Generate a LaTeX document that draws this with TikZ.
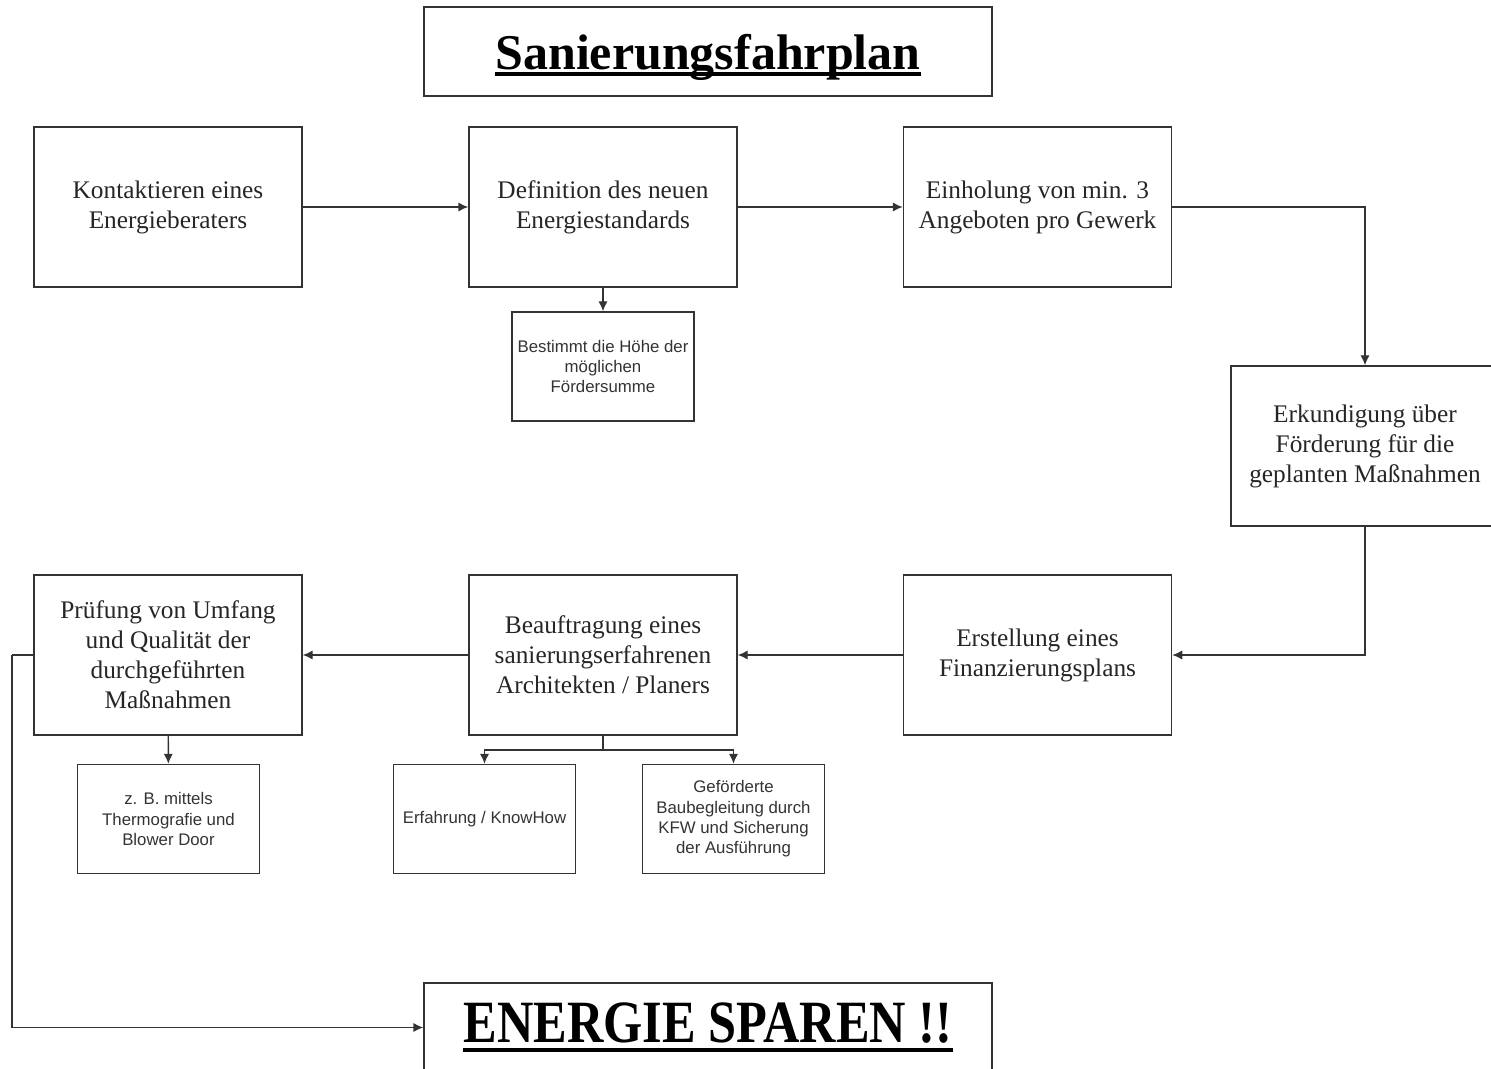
\documentclass[tikz,border=0pt]{standalone}
\usepackage{fontspec}
\setmainfont{Liberation Serif}
\setsansfont{Liberation Sans}
\usepackage{tikz}
\usetikzlibrary{arrows.meta}

% thick underline: #1 gap below baseline, #2 thickness, #3 text
\newcommand{\thickul}[3]{\setbox0\hbox{#3}\leavevmode\rlap{\rule[-\dimexpr#1+#2\relax]{\wd0}{#2}}\box0}

\begin{document}
\begin{tikzpicture}[x=0.75pt, y=-0.75pt,
		node_style/.style={rectangle,draw=black!80,line width=1.1pt,minimum width=201pt,minimum height=120pt,align=center,font=\fontsize{19}{22.5}\selectfont,text=black!85},
		small_style/.style={rectangle,draw=black!80,line width=1.1pt,minimum width=136.5pt,minimum height=81.75pt,align=center,font=\sffamily\fontsize{12.6}{15.3}\selectfont,text=black!80},
		title_style/.style={rectangle,draw=black!80,line width=1.1pt,minimum width=426pt,minimum height=66.75pt,align=center},
		edge_style/.style={draw=black!80,line width=1.1pt},
		arrow_style/.style={edge_style,-{Latex[length=7.5pt,width=7pt]}}]

		\useasboundingbox (0,0) rectangle (1491,1069);

		\node[title_style,text depth=0pt] (t0) at (708,51.5) {\bfseries\fontsize{37.5}{40}\selectfont
			\thickul{2.5pt}{2.4pt}{Sanierungsfahrplan}};

		\node[node_style] (n0) at (168,207)    {Kontaktieren eines\\Energieberaters};
		\node[node_style] (n1) at (603,207)    {Definition des neuen\\Energiestandards};
		\node[node_style] (n2) at (1037.5,207) {Einholung von min. 3\\Angeboten pro Gewerk};
		\node[node_style] (n3) at (1365,446)   {Erkundigung über\\Förderung für die\\geplanten Maßnahmen};
		\node[node_style] (n4) at (1037.5,655) {Erstellung eines\\Finanzierungsplans};
		\node[node_style] (n5) at (603,655)    {Beauftragung eines\\sanierungserfahrenen\\Architekten / Planers};
		\node[node_style] (n6) at (168,655)    {Prüfung von Umfang\\und Qualität der\\durchgeführten\\Maßnahmen};

		\node[small_style] (s1) at (603,366.5) {Bestimmt die Höhe der\\möglichen\\Fördersumme};
		\node[small_style] (s6) at (168.5,819) {z. B. mittels\\Thermografie und\\Blower Door};
		\node[small_style] (s5a) at (484.5,819) {Erfahrung / KnowHow};
		\node[small_style] (s5b) at (733.5,819) {Geförderte\\Baubegleitung durch\\KFW und Sicherung\\der Ausführung};

		\node[title_style] (t1) at (708,1027.5) {\bfseries\fontsize{45}{48}\selectfont
			\scalebox{0.84}[1]{\thickul{3.5pt}{3.2pt}{ENERGIE SPAREN !!}}};

		\coordinate (c5) at (603,750);
		\coordinate (c6) at (12,655);

		\draw[arrow_style] (n0) -- (n1);
		\draw[arrow_style] (n1) -- (n2);
		\draw[arrow_style] (n2.east) -| (n3.north);
		\draw[arrow_style] (n3.south) |- (n4.east);
		\draw[arrow_style] (n4) -- (n5);
		\draw[arrow_style] (n5) -- (n6);
		\draw[arrow_style] (n1) -- (s1);
		\draw[arrow_style] (n6) -- (s6);
		\draw[edge_style]  (n5.south) -- (c5);
		\draw[arrow_style] (c5) -| (s5a.north);
		\draw[arrow_style] (c5) -| (s5b.north);
		\draw[edge_style]  (n6.west) -- (c6);
		\draw[arrow_style] (c6) |- (t1.west);

\end{tikzpicture}
\end{document}
